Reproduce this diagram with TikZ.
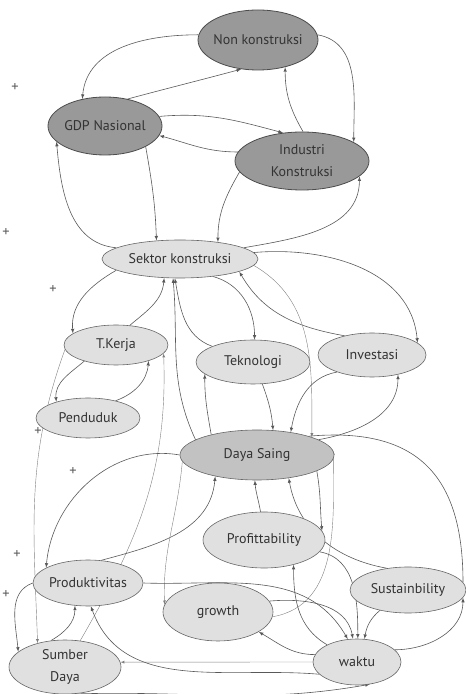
\documentclass[tikz,border=0pt]{standalone}
\usepackage{fontspec}
\setmainfont{PT Sans}
\usetikzlibrary{shapes.geometric,backgrounds,arrows.meta}
\tikzset{
  hub/.style={ellipse,draw=black!70,fill=black!40,thick},
  factor/.style={ellipse,draw=black!60,fill=black!12,semithick},
  dims/.style 2 args={minimum width=#1pt,minimum height=#2pt},
  link/.style={-latex,semithick,black!65},
  faint/.style={-latex,thin,black!50},
  sign/.style={black!65,font=\Large},
  every label/.style={font=\fontsize{14}{17}\selectfont,text=black!80}
}

\begin{document}
\begin{tikzpicture}[x=1pt,y=1pt]
    \useasboundingbox (0,0) rectangle (466,694);

    % variables
    \node[hub,dims={120}{60},label=center:Non konstruksi] (non) at (258,654) {};
    \node[hub,dims={114}{58},label=center:GDP Nasional] (gdp) at (105,568) {};
    \node[hub,dims={134}{58},label={[align=center]center:Industri\\[5pt]Konstruksi}] (ind) at (302,533) {};
    \node[factor,dims={156}{38},label=center:Sektor konstruksi] (sek) at (180,435) {};
    \node[factor,dims={104}{40},label=center:T.Kerja] (tk) at (116,349) {};
    \node[factor,dims={114}{44},label=center:Teknologi] (tek) at (253,332) {};
    \node[factor,dims={108}{44},label=center:Investasi] (inv) at (372,339) {};
    \node[factor,dims={104}{40},label=center:Penduduk] (pen) at (88,276) {};
    \node[factor,fill=black!24,dims={154}{50},label=center:Daya Saing] (ds) at (257,239) {};
    \node[factor,dims={122}{56},label=center:Profittability] (prof) at (264,154) {};
    \node[factor,dims={110}{46},label=center:Produktivitas] (prod) at (88,111) {};
    \node[factor,dims={116}{46},label=center:Sustainbility] (sus) at (408,104) {};
    \node[factor,dims={110}{58},label=center:growth] (gro) at (218,82) {};
    \node[factor,dims={88}{46},label=center:waktu] (wak) at (357,32) {};
    \node[factor,dims={112}{54},label={[align=center]center:Sumber\\[5pt]Daya}] (sd) at (65,27) {};

    % polarity marks
    \node[sign] (s1) at (15,606) {+};
    \node[sign] (s2) at (6,461) {+};
    \node[sign] (s3) at (53,404) {+};
    \node[sign] (s4) at (38,262) {+};
    \node[sign] (s5) at (73,222) {+};
    \node[sign] (s6) at (17,139) {+};
    \node[sign] (s7) at (6,99) {+};

    \begin{scope}[on background layer]
      % top ring
      \draw[link] (non.175) to[out=180,in=85] (gdp.130);
      \draw[link] (gdp.50) to[out=15,in=195] (non.240);
      \draw[link] (non.5) to[out=-10,in=90] (ind.20);
      \draw[link] (ind.88) to[out=120,in=-90] (non.-45);
      \draw[link] (gdp.10) to[out=5,in=165] (ind.124);
      \draw[link] (ind.172) to[out=180,in=-15] (gdp.-10);
      \draw[link] (sek.170) to[out=175,in=-85] (gdp.198);
      \draw[link] (gdp.-27) to[out=-80,in=92] (sek.142);
      \draw[link] (ind.190) to[out=240,in=90] (sek.24);
      \draw[link] (sek.10) to[out=10,in=-90] (ind.-15);

      % middle
      \draw[link] (sek.190) to[out=210,in=95] (tk.165);
      \draw[link] (tk.55) to[out=40,in=-95] (sek.230);
      \draw[link] (tk.207) to[out=220,in=95] (pen.153);
      \draw[link] (pen.32) to[out=20,in=-95] (tk.-26);
      \draw[faint] (tk.185) to[out=250,in=92] (sd.139);
      \draw[faint] (sd.60) to[out=60,in=-88] (tk.-10);
      \draw[link] (ds.166) to[out=115,in=-85] (sek.250);
      \draw[link] (tek.159) to[out=160,in=-80] (sek.255);
      \draw[link] (sek.-28) to[out=-15,in=90] (tek.86);
      \draw[link] (inv.145) to[out=170,in=-60] (sek.-12);
      \draw[link] (sek.5) to[out=5,in=95] (inv.15);
      \draw[faint] (sek.-5) to[out=-30,in=90] (ds.18);
      \draw[link] (tek.-67) to[out=-70,in=95] (ds.57);
      \draw[link] (ds.156) to[out=100,in=-90] (tek.194);
      \draw[link] (inv.206) to[out=190,in=80] (ds.34);
      \draw[link] (ds.14) to[out=10,in=-90] (inv.-37);

      % bottom
      \draw[link] (ds.180) to[out=170,in=85] (prod.160);
      \draw[link] (prod.60) to[out=15,in=-95] (ds.207);
      \draw[faint] (ds.185) to[out=-95,in=92] (gro.172);
      \draw[link] (prof.97) to[out=100,in=-85] (ds.265);
      \draw[link] (ds.-15) to[out=-80,in=95] (prof.9);
      \draw[link] (sus.134) to[out=170,in=-80] (ds.-36);
      \draw[faint] (gro.-5) to[out=10,in=-90] (ds.3);
      \draw[semithick,black!65] (ds.20) to[out=5,in=90,looseness=1.3] (sus.8);
      \draw[link] (wak.18) to[out=0,in=-90] (sus.-8);
      \draw[link] (prof.-12) to[out=-10,in=90] (wak.88);
      \draw[link] (prod.0) to[out=-2,in=120] (wak.112);
      \draw[link] (gro.12) to[out=5,in=100] (wak.100);
      \draw[link] (sus.216) to[out=220,in=80] (wak.72);
      \draw[link] (wak.150) to[out=150,in=-90] (prof.-40);
      \draw[link] (wak.170) to[out=180,in=-30] (gro.-26);
      \draw[faint] (wak.180) -- (sd.5);
      \draw[link] (wak.198) to[out=175,in=-70] (prod.-83);
      \draw[link] (sd.-75) to[out=2,in=190] (wak.-60);
      \draw[link] (prod.180) to[out=200,in=95] (sd.162);
      \draw[link] (sd.118) to[out=30,in=-90] (prod.240);
    \end{scope}
\end{tikzpicture}
\end{document}
